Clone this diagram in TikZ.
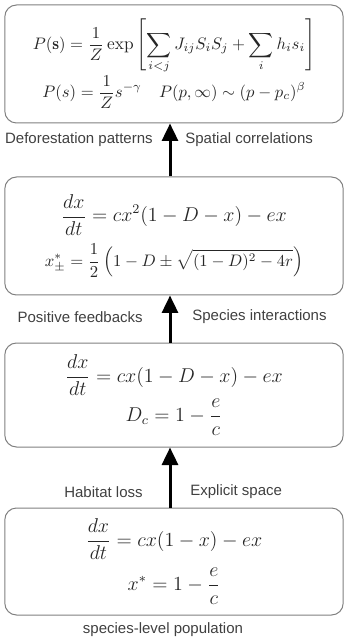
\documentclass[tikz,border=0pt]{standalone}
\usepackage{amsmath}
\usepackage{amssymb}
\usepackage{fontspec}
\newfontfamily\labelfont{Liberation Sans}
\usetikzlibrary{arrows.meta,positioning}

\begin{document}
\begin{tikzpicture}[x=0.6pt,y=-0.6pt,
  model/.style={draw=black!50,line width=0.6pt,fill=white,rounded corners=7pt,
    minimum width=203pt,align=center,inner sep=0pt,text=black!85,
    font=\fontsize{11.5}{14}\selectfont},
  lab/.style={font=\labelfont\fontsize{9}{10}\selectfont,text=black!75,inner sep=0pt},
  up/.style={line width=1.8pt,-{Triangle[length=10.5pt,width=9.6pt]}}]
  \useasboundingbox (0,0) rectangle (347,638);
  % the four models, from top to bottom
  \node[model,minimum height=70.8pt,font=\fontsize{10.4}{13}\selectfont] (ising) at (174,64)
    {$\displaystyle P(\mathbf{s})=\frac{1}{Z}\exp\left[\sum_{i<j}J_{ij}S_iS_j+\sum_i h_is_i\right]$\\
     $\displaystyle P(s)=\frac{1}{Z}s^{-\gamma}\quad P(p,\infty)\sim(p-p_c)^{\beta}$};
  \node[model,minimum height=70.8pt] (feedback) at (174,236)
    {$\displaystyle \frac{dx}{dt}=cx^2(1-D-x)-ex$\\[4pt]
     {\fontsize{10}{12}\selectfont$\displaystyle x^*_{\pm}=\frac{1}{2}\left(1-D\pm\sqrt{(1-D)^2-4r}\right)$}};
  \node[model,minimum height=62.4pt] (habitat) at (174,395)
    {$\displaystyle \frac{dx}{dt}=cx(1-D-x)-ex$\\[1pt]
     $\displaystyle D_c=1-\frac{e}{c}$};
  \node[model,minimum height=64.2pt] (levins) at (174,561.5)
    {$\displaystyle \frac{dx}{dt}=cx(1-x)-ex$\\[4pt]
     $\displaystyle x^*=1-\frac{e}{c}$};
  % arrows
  \draw[up] ([xshift=-2.4pt]levins.north) -- ([xshift=-2.4pt]habitat.south);
  \draw[up] ([xshift=-2.4pt]habitat.north) -- ([xshift=-2.4pt]feedback.south);
  \draw[up] ([xshift=-2.4pt]feedback.north) -- ([xshift=-2.4pt]ising.south);
  % labels
  \node[lab,anchor=east] (defor) at (153,140) {Deforestation patterns};
  \node[lab,anchor=west] (spatial) at (185,140) {Spatial correlations};
  \node[lab,anchor=east] (posfb) at (143,317) {Positive feedbacks};
  \node[lab,anchor=west] (inter) at (192,317) {Species interactions};
  \node[lab,anchor=east] (loss) at (143,492) {Habitat loss};
  \node[lab,anchor=west] (explicit) at (190,492) {Explicit space};
  \node[lab] (caption) at (163,630) {species-level population};
\end{tikzpicture}
\end{document}
